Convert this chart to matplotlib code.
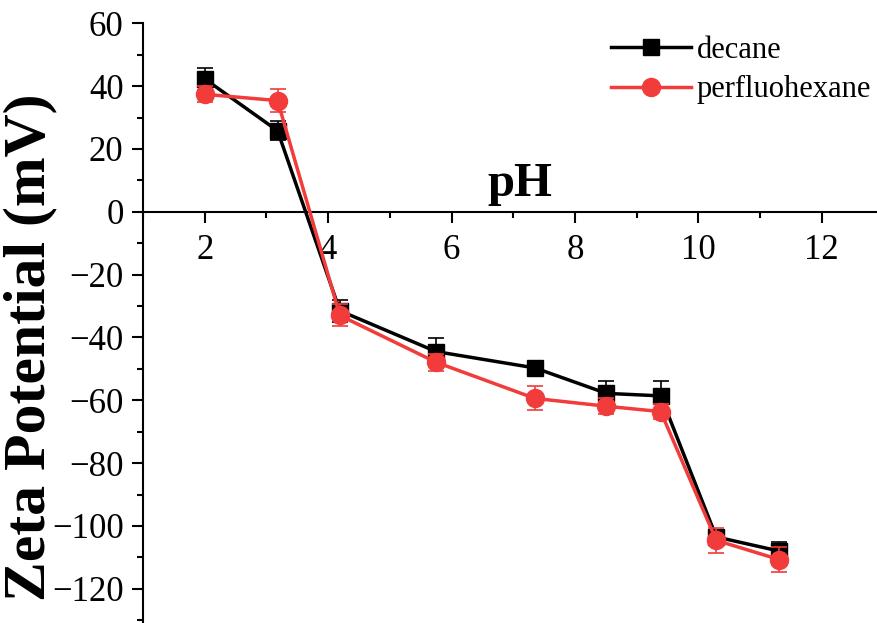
import matplotlib
matplotlib.use("Agg")
import matplotlib.pyplot as plt
from matplotlib.ticker import MultipleLocator

plt.rcParams['font.family'] = ['Liberation Serif', 'DejaVu Serif']

ph_decane = [2.0, 3.18, 4.19, 5.75, 7.35, 8.51, 9.39, 10.29, 11.31]
zeta_decane = [42.3, 25.8, -31.5, -44.5, -49.7, -57.8, -58.6, -103.5, -108.0]
err_decane = [3.5, 3.0, 3.5, 4.3, 2.0, 3.9, 4.7, 2.0, 3.0]

ph_pfh = [2.0, 3.18, 4.19, 5.75, 7.35, 8.51, 9.39, 10.29, 11.31]
zeta_pfh = [37.4, 35.4, -33.0, -47.9, -59.4, -61.9, -63.6, -104.6, -110.7]
err_pfh = [2.6, 3.7, 3.5, 2.7, 3.8, 2.5, 2.5, 4.0, 4.0]

xticks = [2, 4, 6, 8, 10, 12]
yticks = [-120, -100, -80, -60, -40, -20, 0, 20, 40, 60]

red = '#F23C3C'

fig = plt.figure(figsize=(8.77, 6.23), dpi=100)
ax = fig.add_axes([0.1631, 0.002, 0.8443, 0.9606])

ax.errorbar(ph_decane, zeta_decane, yerr=err_decane, fmt='none', ecolor='black',
            capsize=6, elinewidth=1.2, capthick=1.2, zorder=2)
ax.plot(ph_decane, zeta_decane, color='black', lw=2.5, marker='s', ms=11.5,
        label='decane', zorder=3)
ax.errorbar(ph_pfh, zeta_pfh, yerr=err_pfh, fmt='none', ecolor=red,
            capsize=6, elinewidth=1.2, capthick=1.2, zorder=4)
ax.plot(ph_pfh, zeta_pfh, color=red, lw=2.5, marker='o', ms=13,
        label='perfluohexane', zorder=5)

ax.set_xlim(1, 13)
ax.set_ylim(-130.5, 60)
ax.set_xticks(xticks)
ax.set_yticks(yticks)
ax.set_yticklabels([f'\u2212{abs(v)}' if v < 0 else str(v) for v in yticks])
ax.xaxis.set_minor_locator(MultipleLocator(1))
ax.yaxis.set_minor_locator(MultipleLocator(10))

ax.spines['top'].set_visible(False)
ax.spines['right'].set_visible(False)
ax.spines['bottom'].set_position(('data', 0))
ax.spines['bottom'].set_linewidth(1.5)
ax.spines['left'].set_linewidth(1.5)

ax.tick_params(axis='both', which='major', direction='out', length=8, width=1.5, labelsize=25)
ax.tick_params(axis='both', which='minor', direction='out', length=4, width=1.5)
ax.tick_params(axis='x', pad=8)
ax.tick_params(axis='y', pad=6)

ax.text(7.1, 9, 'pH', fontsize=35, fontweight='bold', ha='center', va='center')
fig.text(30 / 877, 1 - 347 / 623, 'Zeta Potential (mV)', fontsize=43, fontweight='bold',
         rotation=90, ha='center', va='center')

leg = ax.legend(loc='upper right', bbox_to_anchor=(1.0, 1.0), frameon=False,
                fontsize=22, handlelength=2.6, handletextpad=0.2, labelspacing=0.35,
                borderaxespad=0.0)

fig.savefig('out.png', dpi=100)
